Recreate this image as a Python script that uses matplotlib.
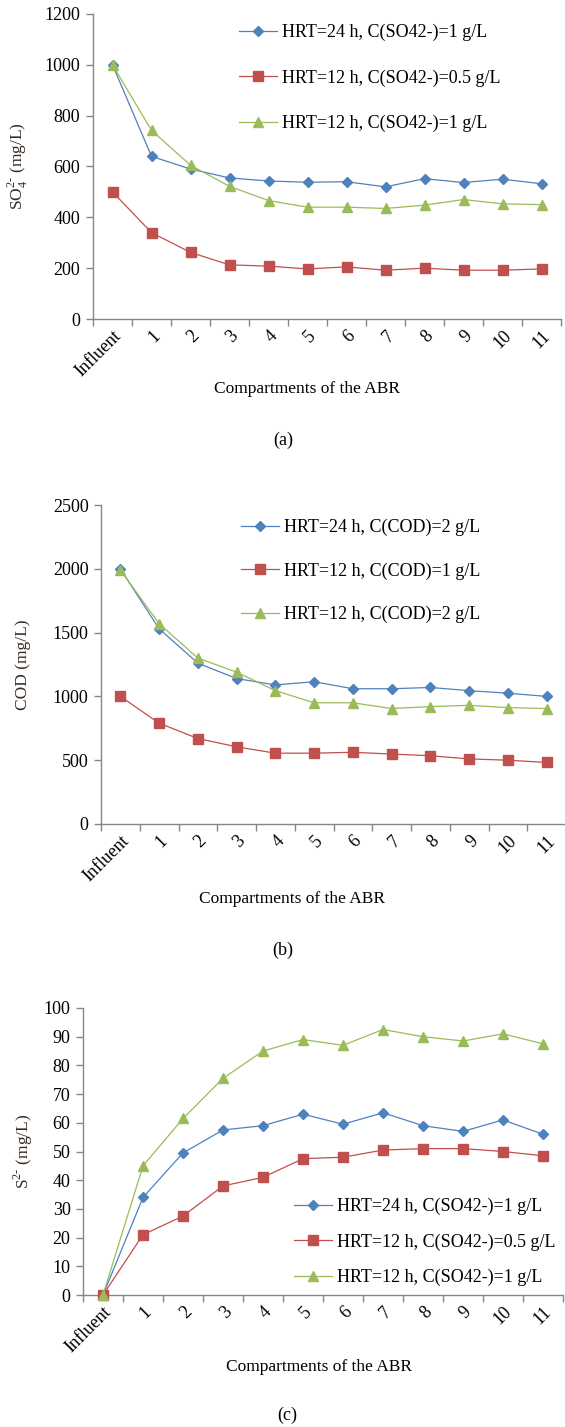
import matplotlib
matplotlib.use("Agg")
import matplotlib.pyplot as plt
from matplotlib.ticker import FixedLocator, NullFormatter

plt.rcParams["font.family"] = ["Liberation Serif", "DejaVu Serif"]
plt.rcParams["mathtext.fontset"] = "custom"
plt.rcParams["mathtext.rm"] = "Liberation Serif"

# categories
compartments = ["Influent", "1", "2", "3", "4", "5", "6", "7", "8", "9", "10", "11"]

# (a) sulfate
so4_24h_1g = [1000, 640, 590, 555, 543, 538, 540, 520, 552, 537, 550, 532]
so4_12h_05g = [500, 340, 262, 213, 208, 197, 205, 192, 200, 192, 192, 197]
so4_12h_1g = [1000, 742, 605, 522, 466, 440, 440, 435, 448, 470, 453, 450]
so4_labels = ["HRT=24 h, C(SO42-)=1 g/L", "HRT=12 h, C(SO42-)=0.5 g/L",
              "HRT=12 h, C(SO42-)=1 g/L"]

# (b) COD
cod_24h_2g = [2000, 1530, 1260, 1140, 1090, 1115, 1060, 1060, 1070, 1045, 1025, 1000]
cod_12h_1g = [1000, 790, 670, 605, 555, 555, 562, 548, 535, 510, 500, 482]
cod_12h_2g = [1990, 1570, 1300, 1190, 1045, 950, 950, 905, 920, 930, 912, 905]
cod_labels = ["HRT=24 h, C(COD)=2 g/L", "HRT=12 h, C(COD)=1 g/L",
              "HRT=12 h, C(COD)=2 g/L"]

# (c) sulfide
s2_24h_1g = [0, 34, 49.5, 57.5, 59, 63, 59.5, 63.5, 59, 57, 61, 56]
s2_12h_05g = [0, 21, 27.5, 38, 41, 47.5, 48, 50.5, 51, 51, 50, 48.5]
s2_12h_1g = [0, 45, 61.5, 75.5, 85, 89, 87, 92.5, 90, 88.5, 91, 87.5]

BLUE, RED, GREEN = "#4F81BD", "#C0504D", "#9BBB59"
AXC = "#868686"
LABC = "#3a2c22"

W, H = 565, 1427
fig = plt.figure(figsize=(W / 100, H / 100), dpi=100)


def px_axes(left, right, top, bottom):
    return fig.add_axes([left / W, 1 - bottom / H, (right - left) / W, (bottom - top) / H])


def draw_panel(ax, series, labels, ymax, ystep, ylabel, ylab_x, leg_xy, leg_space,
               xlab_xy, tag_xy, tag):
    x = range(len(compartments))
    styles = [(BLUE, "D", 5.5), (RED, "s", 6.5), (GREEN, "^", 7)]
    for ys, lab, (c, m, ms) in zip(series, labels, styles):
        ax.plot(x, ys, color=c, lw=0.9, marker=m, ms=ms, mec=c, mfc=c, label=lab,
                clip_on=False, zorder=3)
    ax.set_xlim(-0.5, len(compartments) - 0.5)
    ax.set_ylim(0, ymax)
    ax.set_yticks(range(0, ymax + 1, ystep))
    ax.xaxis.set_major_locator(FixedLocator([i - 0.5 for i in range(len(compartments) + 1)]))
    ax.xaxis.set_major_formatter(NullFormatter())
    ax.xaxis.set_minor_locator(FixedLocator(list(x)))
    ax.set_xticklabels(compartments, minor=True, rotation=45, ha="right",
                       rotation_mode="anchor", fontsize=13)
    ax.tick_params(axis="x", which="minor", length=0, pad=6)
    ax.tick_params(axis="x", which="major", length=5, color=AXC, width=1)
    ax.tick_params(axis="y", length=5, color=AXC, width=1, labelsize=13, pad=4)
    for s in ["top", "right"]:
        ax.spines[s].set_visible(False)
    for s in ["left", "bottom"]:
        ax.spines[s].set_color(AXC)
        ax.spines[s].set_linewidth(1)
    ax.set_ylabel(ylabel, fontsize=12.5, color=LABC)
    ax.yaxis.set_label_coords(ylab_x, 0.5)
    ax.legend(loc="upper left", bbox_to_anchor=(leg_xy[0] / W, 1 - leg_xy[1] / H),
              bbox_transform=fig.transFigure, frameon=False, fontsize=13,
              handlelength=2.1, handletextpad=0.3, labelspacing=leg_space,
              borderpad=0, borderaxespad=0)
    fig.text(xlab_xy[0] / W, 1 - xlab_xy[1] / H, "Compartments of the ABR",
             ha="center", va="center", fontsize=12.5)
    fig.text(tag_xy[0] / W, 1 - tag_xy[1] / H, tag, ha="center", va="center", fontsize=13)


ax_a = px_axes(93, 561, 14, 319)
draw_panel(ax_a, [so4_24h_1g, so4_12h_05g, so4_12h_1g], so4_labels, 1200, 200,
           r"SO$_4^{2\text{-}}$ (mg/L)", -0.135, (239, 24), 1.55, (307, 389), (283, 440), "(a)")

ax_b = px_axes(101, 566, 505, 824)
draw_panel(ax_b, [cod_24h_2g, cod_12h_1g, cod_12h_2g], cod_labels, 2500, 500,
           "COD (mg/L)", -0.15, (241, 519), 1.45, (292, 899), (283, 950), "(b)")

ax_c = px_axes(83, 563, 1008, 1295)
draw_panel(ax_c, [s2_24h_1g, s2_12h_05g, s2_12h_1g], so4_labels, 100, 10,
           r"S$^{2\text{-}}$ (mg/L)", -0.1, (294, 1198), 1.0, (319, 1367), (287, 1415), "(c)")

fig.savefig("out.png", dpi=100, facecolor="white")
